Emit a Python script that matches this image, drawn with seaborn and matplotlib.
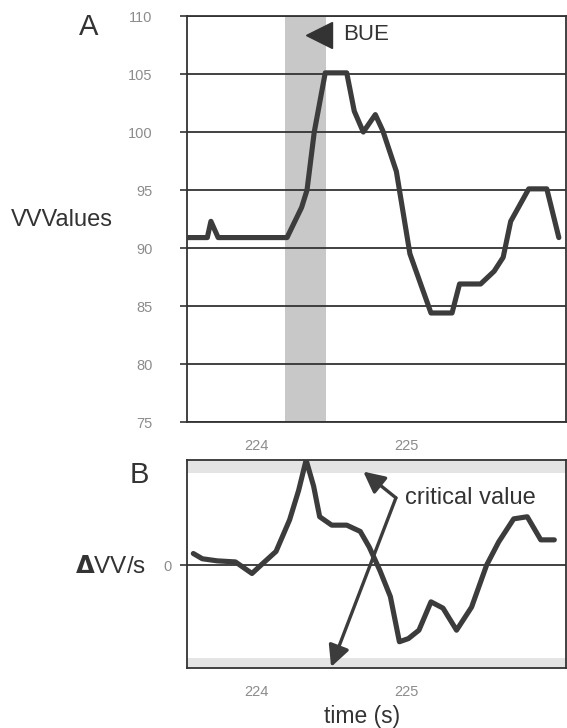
import numpy as np
import pandas as pd
import matplotlib
matplotlib.use("Agg")
import matplotlib.pyplot as plt
import seaborn as sns

# panel A: VV values over time
time_a = [223.54, 223.673, 223.697, 223.745, 224.203, 224.30, 224.336, 224.384,
          224.457, 224.60, 224.65, 224.71, 224.79, 224.84, 224.93, 225.02,
          225.16, 225.30, 225.35, 225.49, 225.58, 225.64, 225.69, 225.81,
          225.93, 226.01]
vv_a = [90.9, 90.9, 92.3, 90.9, 90.9, 93.5, 95.0, 100.0,
        105.1, 105.1, 101.8, 100.0, 101.5, 100.1, 96.6, 89.5,
        84.4, 84.4, 86.9, 86.9, 88.0, 89.2, 92.3, 95.1,
        95.1, 90.9]

# panel B: rate of change of VV
time_b = [223.58, 223.64, 223.74, 223.86, 223.97, 224.03, 224.13, 224.22,
          224.28, 224.33, 224.38, 224.42, 224.50, 224.60, 224.69, 224.75,
          224.82, 224.89, 224.95, 225.01, 225.08, 225.16, 225.24, 225.33,
          225.43, 225.53, 225.61, 225.71, 225.80, 225.89, 225.98]
dvv_b = [0.11, 0.06, 0.04, 0.03, -0.08, 0.0, 0.13, 0.43,
         0.71, 1.0, 0.75, 0.46, 0.38, 0.38, 0.32, 0.17,
         -0.05, -0.30, -0.73, -0.70, -0.62, -0.35, -0.41, -0.62,
         -0.40, 0.0, 0.22, 0.44, 0.46, 0.24, 0.24]

yticks_a = [75, 80, 85, 90, 95, 100, 105, 110]
xticks = [224, 225]
bue_span = (224.19, 224.465)
critical = 0.88

sns.set_style("white")
plt.rcParams['font.family'] = ['Liberation Sans', 'DejaVu Sans']

line_col = "#3c3c3c"
grid_col = "#333333"
tick_col = "#8c8c8c"
xlim = (223.538, 226.056)

fig = plt.figure(figsize=(5.67, 7.28), dpi=100)
ax_a = fig.add_axes([0.3298, 0.4203, 0.668, 0.5577])
ax_b = fig.add_axes([0.3298, 0.0824, 0.668, 0.2857])

df_a = pd.DataFrame({"time": time_a, "vv": vv_a})
df_b = pd.DataFrame({"time": time_b, "dvv": dvv_b})

# ---- panel A
ax_a.axvspan(*bue_span, color="#c8c8c8", zorder=0, lw=0)
for y in yticks_a:
    ax_a.axhline(y, color=grid_col, lw=1.3, zorder=1)
sns.lineplot(data=df_a, x="time", y="vv", ax=ax_a, color=line_col, lw=3.7,
             zorder=3, estimator=None, sort=False)
ax_a.set_xlim(*xlim)
ax_a.set_ylim(75, 110)
ax_a.set_yticks(yticks_a)
ax_a.set_xticks(xticks)
ax_a.set_xlabel("")
ax_a.set_ylabel("")
ax_a.tick_params(axis="y", length=5, width=1.2, color=grid_col, pad=20,
                 labelsize=10.5, labelcolor=tick_col, left=True)
ax_a.tick_params(axis="x", length=0, pad=12, labelsize=10.5, labelcolor=tick_col)
for s in ax_a.spines.values():
    s.set_color(grid_col)
    s.set_linewidth(1.3)
ax_a.plot([224.415], [108.4], marker="<", ms=19, color="#333333", zorder=4)
ax_a.text(224.575, 108.4, "BUE", fontsize=16, va="center", ha="left", color="#333333")
fig.text(0.157, 0.963, "A", fontsize=21, ha="center", va="center", color="#333333")
fig.text(0.020, 0.698, "VVValues", fontsize=17, ha="left", va="center", color="#333333")

# ---- panel B
ax_b.axhspan(critical, 1.0, color="#e4e4e4", zorder=0, lw=0)
ax_b.axhspan(-0.98, -critical, color="#e4e4e4", zorder=0, lw=0)
ax_b.axhline(0, color=grid_col, lw=1.3, zorder=1)
sns.lineplot(data=df_b, x="time", y="dvv", ax=ax_b, color=line_col, lw=3.7,
             zorder=3, estimator=None, sort=False)
ax_b.set_xlim(*xlim)
ax_b.set_ylim(-0.98, 1.0)
ax_b.set_yticks([0])
ax_b.set_xticks(xticks)
ax_b.set_ylabel("")
ax_b.set_xlabel("")
ax_b.tick_params(axis="y", length=5, width=1.2, color=grid_col, pad=6,
                 labelsize=10.5, labelcolor=tick_col, left=True)
ax_b.tick_params(axis="x", length=0, pad=12, labelsize=10.5, labelcolor=tick_col)
for s in ax_b.spines.values():
    s.set_color(grid_col)
    s.set_linewidth(1.3)

arrow_kw = dict(arrowstyle="-|>", color="#3c3c3c", lw=2.4, mutation_scale=32,
                shrinkA=0, shrinkB=0)
ax_b.annotate("", xy=(224.71, 0.89), xytext=(224.927, 0.64), arrowprops=arrow_kw, zorder=5)
ax_b.annotate("", xy=(224.496, -0.97), xytext=(224.927, 0.64), arrowprops=arrow_kw, zorder=5)
ax_b.text(224.99, 0.64, "critical value", fontsize=17, va="center", ha="left", color="#333333")
fig.text(0.245, 0.347, "B", fontsize=21, ha="center", va="center", color="#333333")
fig.text(0.132, 0.221, r"$\mathbf{\Delta}$VV/s", fontsize=17.5, ha="left", va="center",
         color="#333333")
fig.text(0.638, 0.016, "time (s)", fontsize=16.5, ha="center", va="center", color="#333333")

fig.savefig("out.png", dpi=100)
